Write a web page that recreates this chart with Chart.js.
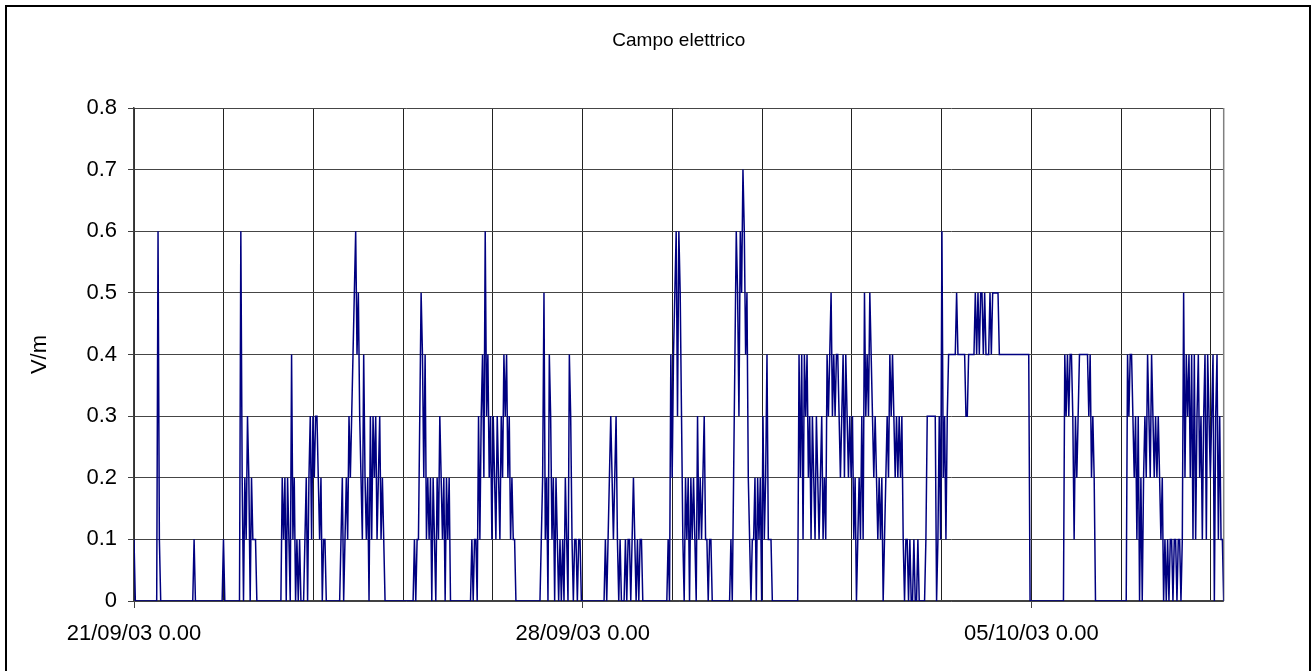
<!DOCTYPE html>
<html>
<head>
<meta charset="utf-8">
<title>Campo elettrico</title>
<script src="https://cdn.jsdelivr.net/npm/chart.js@4.4.1/dist/chart.umd.min.js"></script>
<style>
  html, body { margin: 0; padding: 0; background: #fff; }
  #wrap { width: 1312px; height: 671px; position: relative; }
</style>
</head>
<body>
<div id="wrap"><canvas id="c" width="1312" height="671"></canvas></div>
<script>
// Electric field (V/m), one reading every 30 minutes, one array per day
const sep21 = [.1,0,0,0,0,0,0,0,0,0, 0,0,0,0,0,0,0,0,.6,.1, 0,0,0,0,0,0,0,0,0,0, 0,0,0,0,0,0,0,0,0,0, 0,0,0,0,0,.1,0,0];
const sep22 = [0,0,0,0,0,0,0,0,0,0, 0,0,0,0,0,0,0,0,0,.1, 0,0,0,0,0,0,0,0,0,0, 0,0,.6,.2,0,.2,.1,.3,.2,0, .2,.1,.1,.1,0,0,0,0];
const sep23 = [0,0,0,0,0,0,0,0,0,0, 0,0,0,0,0,.2,.1,.2,0,.2, .1,0,.4,.1,.2,0,.1,0,.1,0, 0,0,.1,.2,0,.2,.3,.1,.3,.2, .3,.3,.2,.1,.2,0,.1,.1];
const sep24 = [0,0,0,0,0,0,0,0,0,0, 0,.1,.2,0,.1,.2,.1,.3,.2,.3, .4,.5,.6,.4,.5,.3,.2,.1,.4,.2, .1,.2,0,.3,.1,.3,.2,.3,.1,.2, .3,.1,.2,.1,0,0,0,0];
const sep25 = [0,0,0,0,0,0,0,0,0,0, 0,0,0,0,0,0,0,0,.1,0, .1,.1,.3,.5,.4,.2,.4,.1,.2,.1, .2,0,.2,.1,0,.2,.1,.3,.2,.1, .2,0,.2,.1,.2,0,0,0];
const sep26 = [0,0,0,0,0,0,0,0,0,0, 0,0,0,.1,0,.1,.1,0,.3,.1, .3,.4,.2,.6,.3,.4,.2,.3,.1,.3, .2,.1,.3,.2,.1,.3,.2,.4,.3,.4, .2,.3,.1,.2,.1,.1,0,0];
const sep27 = [0,0,0,0,0,0,0,0,0,0, 0,0,0,0,0,0,0,.1,.2,.5, .1,.2,0,.4,.3,.1,.2,0,.2,.1, 0,.1,0,.1,0,.2,.1,0,.4,.3, .1,0,.1,.1,0,.1,.1,0];
const sep28 = [0,0,0,0,0,0,0,0,0,0, 0,0,0,0,0,0,0,.1,0,.1, .2,.3,.2,.1,.2,.3,.1,0,.1,0, 0,0,.1,0,.1,.1,0,.1,.2,.1, 0,.1,0,.1,.1,0,0,0];
const sep29 = [0,0,0,0,0,0,0,0,0,0, 0,0,0,0,0,0,.1,0,.4,.2, .4,.5,.6,.3,.6,.5,.3,.1,0,.2, .1,.2,0,.2,.1,.2,.1,0,.3,.1, .2,.1,.2,.3,.1,.1,0,.1];
const sep30 = [.1,0,0,0,0,0,0,0,0,0, 0,0,0,0,0,.1,0,.2,.4,.6, .5,.3,.6,.5,.7,.6,.4,.5,.2,.1, 0,.1,.1,.2,0,.2,.1,.2,0,.3, .1,.2,.4,.1,.1,.1,0,0];
const oct01 = [0,0,0,0,0,0,0,0,0,0, 0,0,0,0,0,0,0,0,.4,.2, .4,.1,.4,.3,.4,.2,.3,.1,.3,.2, .1,.3,.2,.1,.2,.3,.1,.2,.1,.4, .3,.4,.5,.3,.4,.3,.4,.4];
const oct02 = [.3,.2,.3,.4,.2,.4,.3,.2,.3,.2, .3,.1,.2,0,.1,.2,.1,.3,.1,.5, .3,.4,.3,.5,.4,.3,.2,.3,.2,.1, .2,.1,.2,0,.1,.2,.3,.2,.4,.3, .4,.3,.2,.3,.2,.3,.2,.3];
const oct03 = [.1,0,.1,.1,0,.1,0,0,.1,0, 0,.1,0,0,0,0,0,.1,.3,.3, .3,.3,.3,.3,.3,0,.1,.3,.1,.6, .2,.3,.1,.3,.4,.4,.4,.4,.4,.4, .5,.4,.4,.4,.4,.4,.4,.3];
const oct04 = [.3,.4,.4,.4,.4,.4,.5,.4,.5,.4, .5,.5,.4,.5,.4,.4,.4,.5,.4,.5, .5,.5,.5,.5,.4,.4,.4,.4,.4,.4, .4,.4,.4,.4,.4,.4,.4,.4,.4,.4, .4,.4,.4,.4,.4,.4,.4,0];
const oct05 = [0,0,0,0,0,0,0,0,0,0, 0,0,0,0,0,0,0,0,0,0, 0,0,0,0,0,.4,.3,.4,.3,.4, .4,.3,.1,.3,.2,.3,.4,.4,.4,.4, .4,.4,.4,.3,.4,.2,.3,.2];
const oct06 = [0,0,0,0,0,0,0,0,0,0, 0,0,0,0,0,0,0,0,0,0, 0,0,0,0,.4,.3,.4,.4,.3,.2, .3,.1,.3,0,.2,0,.2,.3,.2,.4, .3,.2,.4,.3,.2,.3,.2,.3];
// last day also carries the closing reading of 08/10/03 0.00
const oct07 = [.2,.1,.2,0,.1,0,.1,0,.1,.1, 0,.1,.1,0,.1,.1,0,.1,.5,.2, .4,.3,.4,.2,.4,.1,.4,.1,.3,.4, .2,.3,.1,.3,.4,.1,.4,.3,.2,.3, .4,0,.3,.4,.1,.3,.1,.1, 0];

const days = [sep21, sep22, sep23, sep24, sep25, sep26, sep27, sep28, sep29, sep30,
              oct01, oct02, oct03, oct04, oct05, oct06, oct07];
const samplesPerDay = 48;

// Axis ticks: gridlines every 1.4 days, date labels once a week
const xGridDays = [0, 1.4, 2.8, 4.2, 5.6, 7, 8.4, 9.8, 11.2, 12.6, 14, 15.4, 16.8];
const xLabelDays = [0, 7, 14];
const xLabels = ['21/09/03 0.00', '28/09/03 0.00', '05/10/03 0.00'];
const yTicks = [0, 0.1, 0.2, 0.3, 0.4, 0.5, 0.6, 0.7, 0.8];
const chartTitle = 'Campo elettrico';

const points = [];
days.forEach((vals, d) => {
  vals.forEach((v, i) => points.push({ x: d + i / samplesPerDay, y: v }));
});

const FONT = "'Liberation Sans', Arial, sans-serif";
const labelIndex = (v) => xLabelDays.findIndex((d) => Math.abs(d - v) < 1e-6);

// White page, title centred over the plot, grey right edge of the plot and the outer black frame
const framePlugin = {
  id: 'frame',
  beforeDraw(chart) {
    const ctx = chart.ctx;
    ctx.save();
    ctx.fillStyle = '#ffffff';
    ctx.fillRect(0, 0, chart.width, chart.height);
    ctx.restore();
  },
  beforeDatasetsDraw(chart) {
    const { ctx, chartArea: a } = chart;
    ctx.save();
    ctx.strokeStyle = '#808080';
    ctx.lineWidth = 1.5;
    ctx.beginPath();
    ctx.moveTo(a.right, a.top);
    ctx.lineTo(a.right, a.bottom);
    ctx.stroke();
    ctx.restore();
  },
  afterDraw(chart) {
    const { ctx, chartArea: a } = chart;
    ctx.save();
    ctx.fillStyle = '#000000';
    ctx.font = '19px ' + FONT;
    ctx.textAlign = 'center';
    ctx.textBaseline = 'middle';
    ctx.fillText(chartTitle, (a.left + a.right) / 2, 41);
    ctx.strokeStyle = '#000000';
    ctx.lineWidth = 2;
    ctx.strokeRect(6, 6, 1304, 690);
    ctx.restore();
  }
};

new Chart(document.getElementById('c'), {
  type: 'line',
  data: {
    datasets: [{
      data: points,
      borderColor: '#000080',
      borderWidth: 1.5,
      pointRadius: 0,
      tension: 0,
      fill: false
    }]
  },
  options: {
    responsive: false,
    devicePixelRatio: 1,
    animation: false,
    parsing: false,
    layout: { padding: { left: 0, right: 88.3, top: 108, bottom: 0 } },
    plugins: {
      legend: { display: false },
      tooltip: { enabled: false },
      title: { display: false }
    },
    scales: {
      x: {
        type: 'linear',
        min: 0,
        max: 17,
        afterBuildTicks: (s) => { s.ticks = xGridDays.map((v) => ({ value: v })); },
        afterFit: (s) => { s.height = 70; },
        ticks: {
          autoSkip: false,
          maxRotation: 0,
          color: '#000',
          padding: 13,
          font: { family: FONT, size: 22 },
          callback: (v) => { const k = labelIndex(v); return k >= 0 ? xLabels[k] : ''; }
        },
        grid: {
          color: '#222222',
          lineWidth: 1,
          tickLength: 7,
          tickColor: (ctx) => (ctx.tick && labelIndex(ctx.tick.value) >= 0 ? '#404040' : 'rgba(0,0,0,0)')
        },
        border: { color: '#404040', width: 1.5 }
      },
      y: {
        min: 0,
        max: 0.8,
        afterBuildTicks: (s) => { s.ticks = yTicks.map((v) => ({ value: v })); },
        afterFit: (s) => { s.width = 134; },
        ticks: {
          color: '#000',
          padding: 11,
          font: { family: FONT, size: 22 },
          callback: (v) => String(v)
        },
        grid: { color: '#454545', lineWidth: 1, tickLength: 6, tickColor: '#404040' },
        border: { color: '#404040', width: 1.5 },
        title: {
          display: true,
          text: 'V/m',
          color: '#000',
          font: { family: FONT, size: 22 },
          padding: { top: 27, bottom: 0 }
        }
      }
    }
  },
  plugins: [framePlugin]
});
</script>
</body>
</html>
